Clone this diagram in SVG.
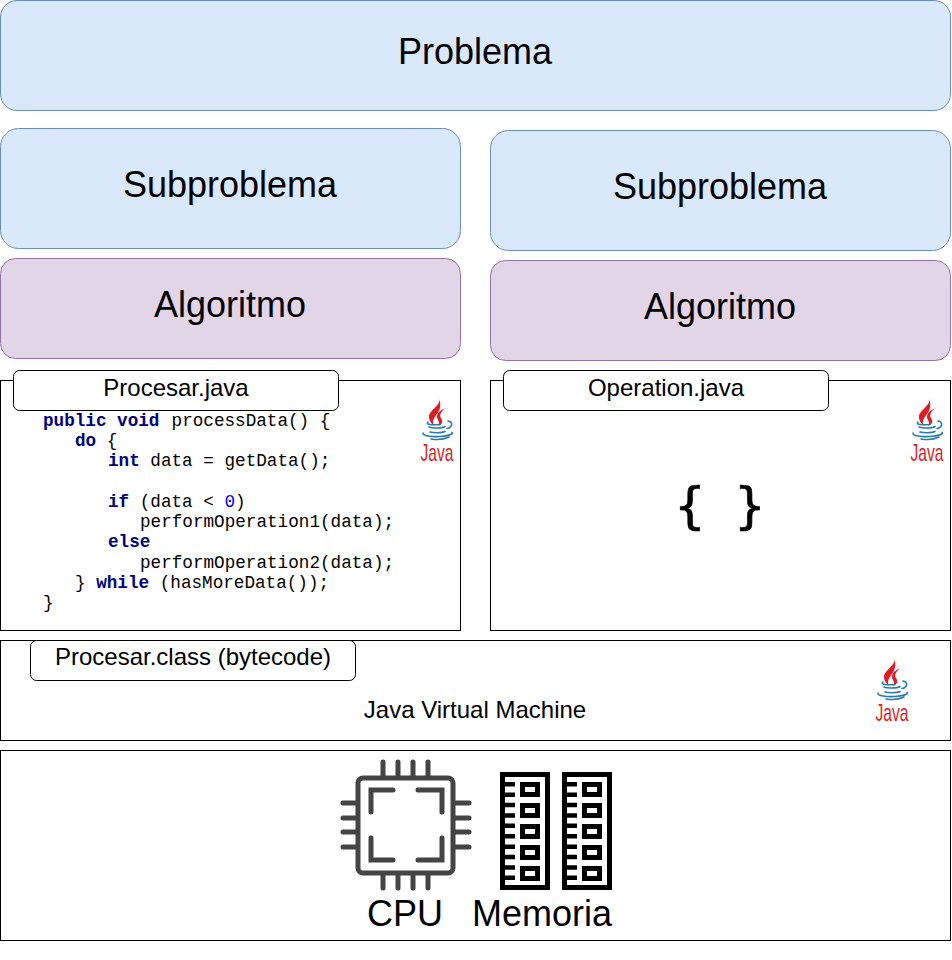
<svg xmlns="http://www.w3.org/2000/svg" xmlns:xlink="http://www.w3.org/1999/xlink" width="952" height="960" viewBox="0 0 952 960">
<style>
text{font-family:"Liberation Sans",Arial,sans-serif;fill:#000;text-anchor:middle}
.blue{fill:#dae8fc;stroke:#6c8ebf}
.purple{fill:#e1d5e7;stroke:#9673a6}
.box{fill:#fff;stroke:#000}
.big{font-size:36px}
.label{font-size:24px}
.code{font-family:"Liberation Mono",monospace;font-size:17.65px;text-anchor:start;white-space:pre}
.kw{font-weight:bold;fill:#000080}
.cpu{fill:none;stroke:#444;stroke-width:5;stroke-linecap:round}
.javatext{fill:#e01b24;font-size:24px;font-family:"Liberation Sans Narrow","Liberation Sans",sans-serif}
.brace{font-family:"DejaVu Sans",sans-serif;font-size:50px;stroke:#000;stroke-width:.7}
</style>
<defs>
<g id="javaLogo">
<path d="M19 1C22 8 9 13 9 20C9 24 12 27 14 29C12 25 13 22 17 17C21 12 21 6 19 1Z M25 11C19 14 15 18 18 23C19 25 20 27 18 29C23 27 23 24 21 21C19 18 21 15 25 11Z" fill="#e01b24"/>
<path d="M8 25C5 28 13 28 20 27.500M9 30C12 31.500 22 31.500 25 29.500M28 24C33 25 33 30 27 31.500M10 35C14 36 22 36 25 34.500M3 36C2 39 12 40 20 39.500C28 39 34 37 32 35.500M11 42C17 43 25 42 29 40" fill="none" stroke="#2a7ab0" stroke-width="1.600" stroke-linecap="round"/>
<text class="javatext" x="17" y="63.500" textLength="33" lengthAdjust="spacingAndGlyphs">Java</text>
</g>
<g id="ramStick">
<path d="M0 0H50V118H0Z M5 5V113H45V5Z" fill="#000" fill-rule="evenodd"/>
<path d="M5 10h10v4.500H5z M5 20.400h10v4.500H5z M5 30.800h10v4.500H5z M5 41.200h10v4.500H5z M5 51.600h10v4.500H5z M5 62h10v4.500H5z M5 72.400h10v4.500H5z M5 82.800h10v4.500H5z M5 93.200h10v4.500H5z M5 103.600h10v4.500H5z" fill="#000"/>
<path d="M20 10H40V25H20Z M25 15V20H35V15Z M20 31H40V46H20Z M25 36V41H35V36Z M20 52H40V67H20Z M25 57V62H35V57Z M20 73H40V88H20Z M25 78V83H35V78Z M20 94H40V109H20Z M25 99V104H35V99Z" fill="#000" fill-rule="evenodd"/>
</g>
</defs>
<g id="connectors"></g>
<g id="problema"><rect class="blue" x="0.500" y="0.500" width="950" height="110" rx="16.500"/><text class="big" x="475" y="64">Problema</text></g>
<g id="subproblema-left"><rect class="blue" x="0.500" y="128.500" width="460" height="120" rx="18"/><text class="big" x="230" y="197">Subproblema</text></g>
<g id="subproblema-right"><rect class="blue" x="490.500" y="130.500" width="460" height="120" rx="18"/><text class="big" x="720" y="199">Subproblema</text></g>
<g id="algoritmo-left"><rect class="purple" x="0.500" y="258.500" width="460" height="100" rx="15"/><text class="big" x="230" y="317">Algoritmo</text></g>
<g id="algoritmo-right"><rect class="purple" x="490.500" y="260.500" width="460" height="100" rx="15"/><text class="big" x="720" y="319">Algoritmo</text></g>
<g id="procesar-java">
<rect class="box" x="0.500" y="380.500" width="460" height="250"/>
<text class="code" y="426"><tspan x="43" class="kw">public void</tspan><tspan x="161"> processData() {</tspan></text>
<text class="code" y="446"><tspan x="75" class="kw">do</tspan> {</text>
<text class="code" y="466"><tspan x="108" class="kw">int</tspan> data = getData();</text>
<text class="code" y="507"><tspan x="108" class="kw">if</tspan> (data &lt; <tspan fill="#0000ff">0</tspan>)</text>
<text class="code" x="140" y="527">performOperation1(data);</text>
<text class="code" x="108" y="547"><tspan class="kw">else</tspan></text>
<text class="code" x="140" y="568">performOperation2(data);</text>
<text class="code" y="588"><tspan x="75">}</tspan> <tspan class="kw">while</tspan> (hasMoreData());</text>
<text class="code" x="43" y="608">}</text>
<rect class="box" x="13.500" y="370.500" width="325" height="40" rx="6"/>
<text class="label" x="176" y="396">Procesar.java</text>
<use xlink:href="#javaLogo" href="#javaLogo" x="420" y="397"/>
</g>
<g id="operation-java">
<rect class="box" x="490.500" y="380.500" width="460" height="250"/>
<rect class="box" x="503.500" y="370.500" width="325" height="40" rx="6"/>
<text class="label" x="666" y="396">Operation.java</text>
<use xlink:href="#javaLogo" href="#javaLogo" x="910" y="397"/>
<text class="brace" x="690" y="523">{</text>
<text class="brace" x="750" y="523">}</text>
</g>
<g id="jvm">
<rect class="box" x="0.500" y="640.500" width="950" height="100"/>
<rect class="box" x="30.500" y="640.500" width="325" height="40" rx="6"/>
<text class="label" x="193" y="665">Procesar.class (bytecode)</text>
<text class="label" x="475" y="718">Java Virtual Machine</text>
<use xlink:href="#javaLogo" href="#javaLogo" x="875" y="657"/>
</g>
<g id="hardware">
<rect class="box" x="0.500" y="750.500" width="950" height="190"/>
<g id="cpu-icon">
<rect class="cpu" x="358" y="778" width="95" height="95" rx="5"/>
<path class="cpu" d="M393 790H371V812M418 790H442V812M371 838V860H393M442 838V860H418"/>
<path class="cpu" d="M383 762V776M398 762V776M413 762V776M428 762V776M383 875V888M398 875V888M413 875V888M428 875V888M343 803H356M343 818H356M343 832H356M343 847H356M455 803H469M455 818H469M455 832H469M455 847H469"/>
</g>
<g id="memory-icon">
<use xlink:href="#ramStick" href="#ramStick" x="500" y="772"/>
<use xlink:href="#ramStick" href="#ramStick" x="562" y="772"/>
</g>
<text class="big" x="405" y="926">CPU</text>
<text class="big" x="542" y="926">Memoria</text>
</g>
</svg>
